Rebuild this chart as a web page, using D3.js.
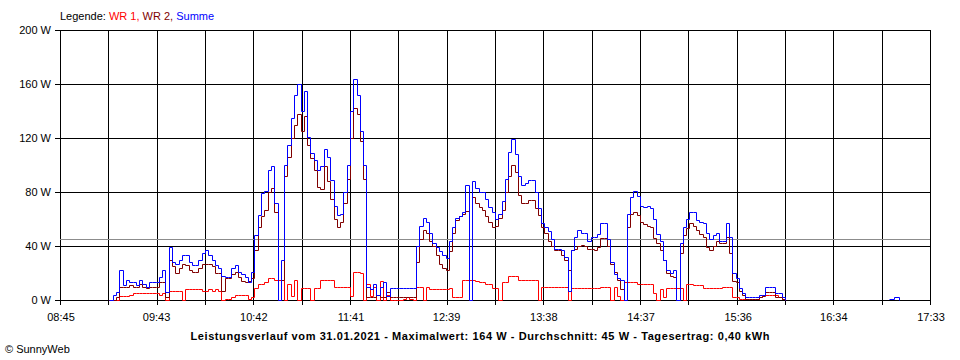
<!DOCTYPE html>
<html>
<head>
<meta charset="utf-8">
<script src="https://cdn.jsdelivr.net/npm/d3@7/dist/d3.min.js"></script>
<style>
    body { margin: 0; background: #fff; }
    svg { display: block; font-family: "Liberation Sans", Arial, sans-serif; font-size: 11px; }
</style>
</head>
<body>
<svg id="chart" width="960" height="360"></svg>
<script>
// samples every 2 minutes starting 09:15
const startTime = '09:15';
const stepMinutes = 2;

const wr1 = [
    0, 0, 0, 3, 3, 3, 4, 5, 5, 5,
    5, 5, 5, 5, 5, 4, 5, 0, 7, 7,
    7, 7, 0, 8, 8, 8, 8, 8, 7, 7,
    8, 7, 8, 7, 0, 1, 1, 2, 4, 4,
    4, 4, 1, 2, 9, 12, 12, 13, 16, 16,
    15, 15, 15, 0, 12, 3, 15, 0, 9, 9,
    9, 0, 9, 9, 15, 15, 15, 15, 10, 10,
    10, 10, 10, 3, 21, 21, 20, 0, 12, 3,
    10, 0, 14, 0, 4, 0, 0, 0, 0, 1,
    2, 1, 0, 10, 10, 0, 10, 8, 8, 8,
    8, 8, 8, 9, 2, 2, 2, 15, 15, 15,
    15, 14, 13, 13, 12, 12, 9, 9, 0, 13,
    13, 18, 18, 18, 15, 15, 15, 15, 15, 15,
    0, 10, 10, 10, 10, 10, 10, 10, 10, 0,
    9, 9, 9, 9, 9, 9, 9, 9, 9, 10,
    10, 10, 0, 10, 3, 0, 13, 13, 13, 13,
    12, 12, 12, 12, 12, 5, 0, 8, 2, 9,
    9, 9, 9, 9, 0, 12, 12, 11, 11, 11,
    9, 9, 9, 9, 9, 9, 10, 10, 10, 2,
    2, 1, 1, 1, 1, 1, 1, 2, 4, 4,
    4, 4, 4, 2, 1, 0
];

const wr2 = [
    0, 0, 2, 10, 10, 10, 11, 10, 10, 12,
    10, 9, 10, 10, 10, 13, 13, 2, 30, 25,
    20, 24, 27, 26, 22, 21, 21, 24, 27, 27,
    27, 25, 20, 20, 7, 16, 16, 19, 21, 17,
    14, 13, 14, 16, 37, 54, 62, 67, 80, 83,
    65, 0, 15, 92, 106, 120, 130, 138, 125, 136,
    115, 105, 96, 84, 82, 99, 88, 75, 60, 54,
    58, 72, 90, 120, 142, 138, 118, 90, 2, 2,
    2, 4, 2, 2, 6, 2, 2, 2, 2, 2,
    2, 2, 2, 28, 45, 52, 50, 44, 40, 33,
    27, 24, 22, 36, 50, 59, 62, 64, 66, 0,
    76, 72, 69, 67, 62, 58, 54, 55, 61, 67,
    80, 92, 100, 95, 78, 72, 72, 74, 74, 68,
    63, 54, 50, 44, 40, 37, 37, 33, 30, 22,
    37, 38, 40, 41, 40, 38, 38, 37, 39, 46,
    46, 40, 27, 21, 15, 8, 0, 54, 64, 65,
    63, 58, 56, 55, 54, 46, 42, 37, 30, 20,
    18, 17, 0, 35, 48, 53, 57, 55, 52, 49,
    47, 39, 37, 40, 44, 42, 42, 47, 35, 14,
    13, 7, 4, 1, 1, 1, 1, 2, 3, 6,
    6, 6, 2, 2, 1, 0
];

const summe = [
    0, 4, 6, 22, 11, 15, 13, 13, 11, 15,
    12, 10, 13, 13, 13, 17, 22, 6, 39, 28,
    27, 30, 33, 33, 28, 26, 26, 30, 35, 37,
    33, 30, 26, 24, 18, 17, 17, 24, 26, 21,
    19, 17, 13, 21, 48, 63, 79, 81, 96, 99,
    72, 0, 30, 100, 115, 135, 152, 160, 140, 155,
    121, 109, 104, 96, 99, 112, 106, 89, 70, 63,
    64, 80, 100, 140, 164, 152, 125, 100, 10, 8,
    12, 4, 10, 13, 3, 9, 9, 9, 9, 9,
    9, 9, 9, 40, 55, 61, 58, 50, 42, 39,
    36, 33, 31, 44, 54, 61, 62, 65, 85, 0,
    88, 83, 80, 80, 75, 69, 65, 60, 64, 73,
    90, 110, 119, 108, 92, 85, 87, 89, 89, 80,
    68, 57, 54, 51, 45, 38, 38, 37, 32, 7,
    37, 47, 52, 50, 50, 44, 47, 47, 49, 57,
    57, 45, 28, 19, 16, 15, 0, 64, 76, 81,
    77, 70, 69, 70, 68, 60, 49, 44, 30, 22,
    20, 22, 0, 42, 54, 60, 65, 65, 59, 58,
    57, 50, 45, 48, 50, 44, 44, 57, 47, 20,
    16, 9, 5, 2, 2, 2, 2, 4, 4, 10,
    10, 10, 5, 5, 2, 0
];

const lateTimes = ['17:08', '17:11', '17:14'];
const lateSumme = [1, 2, 0];

const yTicks = [0, 40, 80, 120, 160, 200];
const xTickLabels = ['08:45', '09:43', '10:42', '11:41', '12:39', '13:38', '14:37', '15:36', '16:34', '17:33'];
const average = 45;

const titleText = 'Leistungsverlauf vom 31.01.2021 - Maximalwert: 164 W - Durchschnitt: 45 W - Tagesertrag: 0,40 kWh';

function toMinutes(s) {
    let parts = s.split(':');
    return +parts[0] * 60 + +parts[1];
}

const margin = { left: 60, right: 30, top: 30, bottom: 60 };
const width = 960, height = 360;

let svg = d3.select('#chart');

let x = d3.scaleLinear()
    .domain([toMinutes(xTickLabels[0]), toMinutes(xTickLabels[xTickLabels.length - 1])])
    .range([margin.left, width - margin.right]);

let y = d3.scaleLinear()
    .domain([0, 200])
    .range([height - margin.bottom, margin.top]);

let crisp = v => Math.round(v) + 0.5;

// grid: one vertical line every half label interval
let domain = x.domain();
let gridTimes = d3.range(19).map(i => domain[0] + i * (domain[1] - domain[0]) / 18);

let grid = svg.append('g');

grid.selectAll('.vline')
    .data(gridTimes)
    .enter()
    .append('line')
    .attr('x1', d => crisp(x(d)))
    .attr('x2', d => crisp(x(d)))
    .attr('y1', y(200))
    .attr('y2', y(0) + 5)
    .attr('stroke', '#000')
    .attr('stroke-width', 1);

grid.selectAll('.hline')
    .data(yTicks)
    .enter()
    .append('line')
    .attr('x1', margin.left - 5)
    .attr('x2', width - margin.right + 0.5)
    .attr('y1', d => crisp(y(d)))
    .attr('y2', d => crisp(y(d)))
    .attr('stroke', '#000')
    .attr('stroke-width', 1);

grid.append('line')
    .attr('x1', margin.left)
    .attr('x2', width - margin.right)
    .attr('y1', crisp(y(average)))
    .attr('y2', crisp(y(average)))
    .attr('stroke', '#8c8c8c')
    .attr('stroke-width', 1);

svg.selectAll('.ylabel')
    .data(yTicks)
    .enter()
    .append('text')
    .attr('x', margin.left - 9)
    .attr('y', d => y(d) + 4)
    .attr('text-anchor', 'end')
    .text(d => d + ' W');

svg.selectAll('.xlabel')
    .data(xTickLabels)
    .enter()
    .append('text')
    .attr('x', d => x(toMinutes(d)) + 1)
    .attr('y', 321)
    .attr('text-anchor', 'middle')
    .text(d => d);

// series
let t0 = toMinutes(startTime);

function toPoints(values) {
    return values.map((v, i) => ({ t: t0 + i * stepMinutes, v: v }));
}

let line = d3.line()
    .x(d => crisp(x(d.t)))
    .y(d => crisp(y(d.v)))
    .curve(d3.curveStepAfter);

let series = [
    { values: toPoints(wr1), color: '#ff0000' },
    { values: toPoints(wr2), color: '#800000' },
    { values: toPoints(summe), color: '#0000ff' },
    { values: lateTimes.map((t, i) => ({ t: toMinutes(t), v: lateSumme[i] })), color: '#0000ff' }
];

svg.append('g')
    .selectAll('path')
    .data(series)
    .enter()
    .append('path')
    .attr('d', d => line(d.values))
    .attr('fill', 'none')
    .attr('stroke', d => d.color)
    .attr('stroke-width', 1);

// legend
let legend = svg.append('text')
    .attr('x', margin.left)
    .attr('y', 20);

legend.append('tspan').attr('fill', '#000').text('Legende: ');
legend.append('tspan').attr('fill', '#ff0000').text('WR 1, ');
legend.append('tspan').attr('fill', '#800000').text('WR 2, ');
legend.append('tspan').attr('fill', '#0000ff').text('Summe');

svg.append('text')
    .attr('x', 480)
    .attr('y', 340)
    .attr('text-anchor', 'middle')
    .attr('font-weight', 'bold')
    .attr('textLength', 579)
    .attr('lengthAdjust', 'spacing')
    .text(titleText);

svg.append('text')
    .attr('x', 5)
    .attr('y', 353)
    .text('\u00a9 SunnyWeb');
</script>
</body>
</html>
